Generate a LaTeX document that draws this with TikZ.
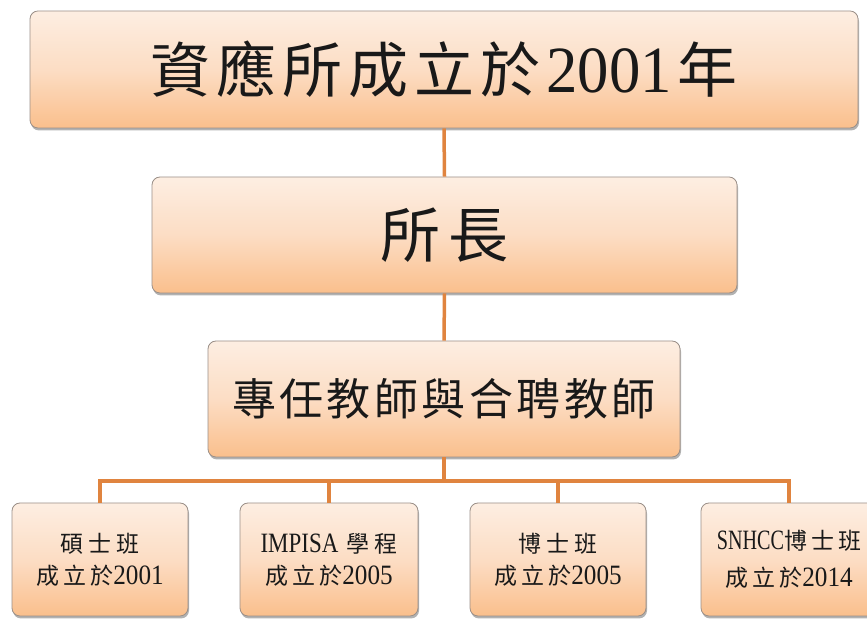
\documentclass[tikz,border=0pt]{standalone}
\usepackage{fontspec}
\newfontfamily\cjk{Noto Sans CJK TC}
\newfontfamily\latf{Liberation Serif}
\usetikzlibrary{shadows}
\newcommand\latw[3]{{\latf\fontsize{#2}{#2}\selectfont\scalebox{#1}[1]{#3}}}
\definecolor{boxtop}{HTML}{FDEEE2}
\definecolor{boxmid}{HTML}{FCDDC4}
\definecolor{boxbot}{HTML}{FABF8C}
\definecolor{boxline}{HTML}{9A8F88}
\definecolor{conn}{HTML}{E0843F}
\begin{document}
\begin{tikzpicture}[x=1pt,y=1pt,
  orgbox/.style={rounded corners=8pt, draw=boxline, line width=0.8pt,
    top color=boxtop, bottom color=boxbot, middle color=boxmid,
    drop shadow={shadow xshift=1pt, shadow yshift=-2.5pt, opacity=0.3, fill=black},
    inner sep=0pt, align=center, text=black!90},
  smallbox/.style={orgbox, minimum width=176pt, minimum height=113pt,
    font=\cjk\fontsize{23}{32}\selectfont},
  link/.style={draw=conn, line width=3.5pt}]
\useasboundingbox (0,0) rectangle (867,620);

\node[orgbox, minimum width=828pt, minimum height=117pt,
      font=\cjk\fontsize{60}{70}\selectfont] (top) at (444,550.5)
  {資\hspace{6pt}應\hspace{6pt}所\hspace{6pt}成\hspace{6pt}立\hspace{6pt}於\hspace{6pt}\latw{0.95}{66}{2001}\hspace{6pt}年};
\node[orgbox, minimum width=585pt, minimum height=116pt,
      font=\cjk\fontsize{60}{70}\selectfont] (head) at (444.5,385)
  {所\hspace{8pt}長};
\node[orgbox, minimum width=472pt, minimum height=116pt,
      font=\cjk\fontsize{44}{50}\selectfont] (fac) at (444,221)
  {專\hspace{3.5pt}任\hspace{3.5pt}教\hspace{3.5pt}師\hspace{3.5pt}與\hspace{3.5pt}合\hspace{3.5pt}聘\hspace{3.5pt}教\hspace{3.5pt}師};

\node[smallbox] (ma) at (100,60.5)
  {碩\hspace{5pt}士\hspace{5pt}班\\
   成\hspace{4pt}立\hspace{4pt}於\latw{0.9}{28}{2001}};
\node[smallbox, minimum width=178pt] (imp) at (329,60.5)
  {\latw{0.82}{28}{IMPISA}\hspace{8pt}學\hspace{5pt}程\\
   成\hspace{4pt}立\hspace{4pt}於\latw{0.9}{28}{2005}};
\node[smallbox] (phd) at (558,60.5)
  {博\hspace{5pt}士\hspace{5pt}班\\
   成\hspace{4pt}立\hspace{4pt}於\latw{0.9}{28}{2005}};
\node[smallbox, font=\cjk\fontsize{23}{37}\selectfont] (sn) at (789,60.5)
  {\latw{0.72}{28}{SNHCC}博\hspace{4pt}士\hspace{4pt}班\\
   成\hspace{4pt}立\hspace{4pt}於\latw{0.9}{28}{2014}};

\coordinate (bus) at (444,139);
\draw[link] (top.south) -- (head.north);
\draw[link] (head.south) -- (fac.north);
\draw[link] (fac.south) -- (bus);
\draw[link] (bus) -| (ma.north);
\draw[link] (bus) -| (imp.north);
\draw[link] (bus) -| (phd.north);
\draw[link] (bus) -| (sn.north);
\end{tikzpicture}
\end{document}
